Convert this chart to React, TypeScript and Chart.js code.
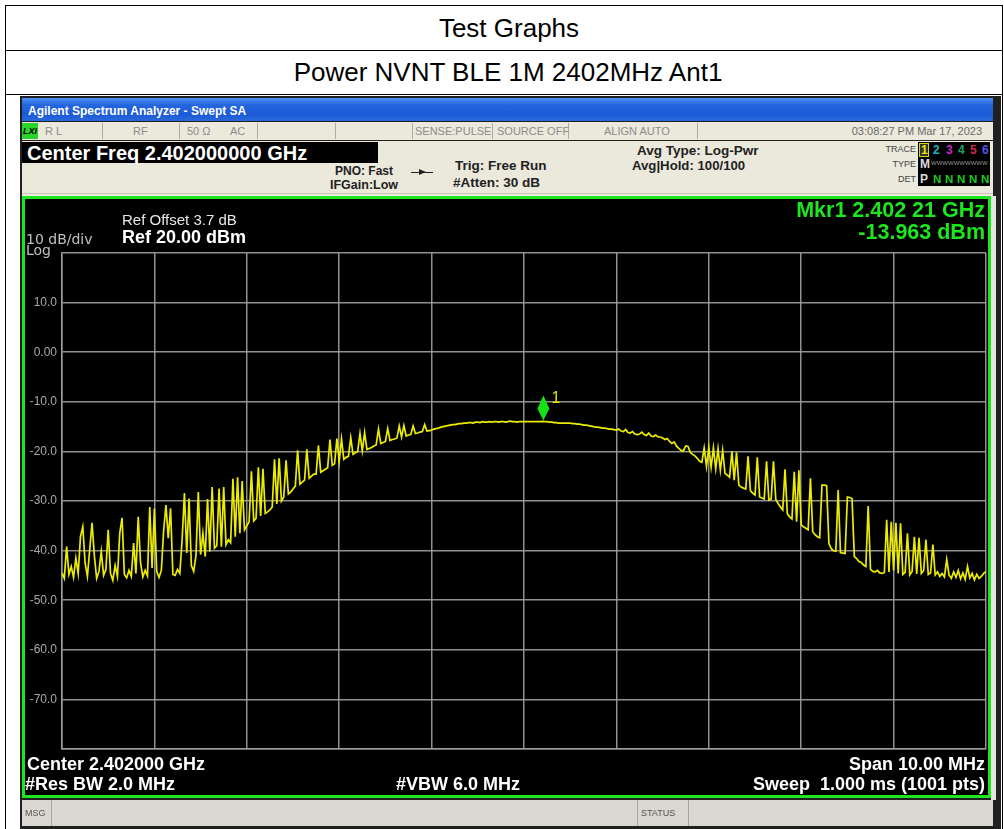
import React, { useEffect, useRef } from "react";
import { Chart, registerables } from "chart.js";

Chart.register(...registerables);

// ---- data ----
const SWEEP_START_MHZ = 2397;
const SWEEP_STEP_MHZ = 0.025;
const FREQ_MIN_MHZ = 2397;
const FREQ_MAX_MHZ = 2407;
const FREQ_DIV_MHZ = 1;
const LEVEL_TOP_DBM = 20;
const LEVEL_BOTTOM_DBM = -80;
const LEVEL_DIV_DB = 10;
const Y_TICK_VALUES = [10, 0, -10, -20, -30, -40, -50, -60, -70];
const Y_TICK_LABELS = ["10.0", "0.00", "-10.0", "-20.0", "-30.0", "-40.0", "-50.0", "-60.0", "-70.0"];

const TRACE_DBM = [
  -44.5, -45.6, -39.2, -44.8, -43.2, -45.4, -41.5, -44.6, -37.2, -35.2,
  -42.5, -45.2, -39.8, -34.4, -41.0, -45.6, -44.2, -40.2, -45.0, -43.8,
  -35.8, -44.6, -46.0, -43.0, -45.2, -36.5, -33.4, -44.8, -45.5, -44.0,
  -45.2, -38.5, -44.6, -33.2, -42.5, -45.3, -44.0, -45.1, -31.2, -43.5,
  -31.5, -44.2, -45.4, -44.0, -36.0, -30.8, -37.5, -31.5, -44.8, -45.0,
  -43.8, -44.6, -37.8, -28.4, -40.5, -29.5, -43.0, -44.2, -41.0, -28.2,
  -40.8, -36.5, -41.2, -29.6, -40.2, -27.2, -39.5, -39.0, -27.5, -39.2,
  -27.2, -38.8, -37.8, -38.4, -25.5, -37.2, -25.2, -36.5, -26.0, -35.8,
  -35.0, -34.2, -24.0, -34.0, -33.5, -23.2, -33.0, -23.5, -32.5, -32.2,
  -31.8, -31.2, -21.6, -30.6, -21.4, -30.0, -29.2, -21.8, -28.6, -28.2,
  -27.6, -27.0, -19.8, -26.6, -26.2, -25.8, -19.6, -25.4, -25.0, -24.6,
  -24.6, -18.8, -24.2, -23.9, -23.6, -23.3, -17.6, -22.8, -22.5, -17.4,
  -22.0, -17.5, -21.6, -21.2, -21.0, -17.2, -20.6, -20.3, -20.0, -16.4,
  -19.9, -16.2, -19.6, -19.4, -19.2, -18.9, -18.7, -15.5, -18.4, -18.2,
  -18.0, -15.4, -17.8, -17.6, -17.5, -17.3, -14.9, -17.1, -14.8, -16.9,
  -16.7, -16.6, -14.9, -16.4, -16.3, -16.1, -16.0, -14.6, -15.9, -15.8,
  -15.7, -15.5, -15.4, -15.3, -15.1, -15.0, -14.9, -14.8, -14.7, -14.6,
  -14.6, -14.5, -14.4, -14.4, -14.3, -14.3, -14.2, -14.2, -14.3, -14.1,
  -14.1, -14.2, -14.0, -14.1, -14.1, -14.0, -14.1, -14.0, -14.0, -14.1,
  -14.0, -14.0, -14.1, -14.0, -13.9, -14.0, -14.0, -14.1, -14.0, -14.0,
  -14.0, -14.0, -14.0, -14.0, -14.0, -14.0, -14.0, -14.0, -13.96, -14.0,
  -14.0, -14.1, -14.1, -14.2, -14.2, -14.3, -14.3, -14.3, -14.3, -14.3,
  -14.3, -14.4, -14.4, -14.5, -14.5, -14.6, -14.7, -14.7, -14.8, -14.9,
  -15.0, -15.1, -15.1, -15.2, -15.3, -15.3, -15.4, -15.5, -15.5, -15.6,
  -15.7, -15.5, -15.9, -16.0, -15.6, -16.2, -16.3, -16.0, -16.5, -16.6,
  -16.5, -16.1, -16.6, -16.8, -16.3, -16.9, -17.0, -16.7, -17.1, -17.1,
  -17.3, -17.6, -17.4, -18.0, -18.4, -18.1, -18.9, -19.4, -19.8, -19.9,
  -18.9, -19.0, -20.2, -20.6, -20.9, -21.4, -22.0, -22.2, -19.3, -23.0,
  -19.2, -23.2, -19.3, -23.5, -19.5, -23.8, -19.8, -24.4, -24.8, -25.2,
  -20.0, -25.8, -20.2, -26.8, -27.2, -27.4, -27.6, -21.0, -27.9, -28.4,
  -28.8, -21.2, -29.2, -29.4, -29.6, -22.0, -29.8, -29.6, -22.0, -29.7,
  -30.5, -31.2, -31.8, -23.6, -32.6, -33.2, -33.6, -24.1, -34.2, -23.8,
  -34.8, -35.2, -35.5, -35.8, -25.4, -36.2, -36.8, -37.2, -37.4, -26.8,
  -26.8, -26.9, -38.6, -39.6, -40.0, -40.1, -27.8, -40.4, -40.5, -40.6,
  -29.2, -29.3, -29.5, -41.2, -41.6, -42.2, -42.4, -42.9, -43.2, -31.0,
  -43.8, -44.2, -44.3, -44.0, -44.5, -44.6, -44.4, -33.8, -44.3, -34.2,
  -44.0, -34.4, -44.6, -34.5, -44.8, -44.4, -36.5, -44.9, -44.2, -37.2,
  -44.7, -37.4, -44.6, -44.0, -37.8, -44.8, -44.5, -38.8, -44.9, -44.3,
  -45.2, -44.6, -45.3, -41.8, -44.9, -45.6, -44.3, -45.4, -44.0, -45.7,
  -44.5, -45.8, -43.2, -45.5, -44.6, -45.9, -44.8, -45.6, -45.2, -44.6,
  -44.2,
];

const MARKER_FREQ_MHZ = 2402.21;
const MARKER_LEVEL_DBM = -13.963;

const SANS = "'Liberation Sans', Arial, sans-serif";

const markerPlugin = {
  id: "mkr1",
  afterDatasetsDraw(chart: any) {
    const { ctx, scales } = chart;
    const px = scales.x.getPixelForValue(MARKER_FREQ_MHZ);
    const py = scales.y.getPixelForValue(MARKER_LEVEL_DBM);
    ctx.save();
    ctx.fillStyle = "#16e016";
    ctx.beginPath();
    ctx.moveTo(px, py - 1);
    ctx.lineTo(px - 6, py - 13);
    ctx.lineTo(px, py - 26);
    ctx.lineTo(px + 6, py - 13);
    ctx.closePath();
    ctx.fill();
    ctx.fillStyle = "#e4e400";
    ctx.font = "16px 'Liberation Sans', Arial, sans-serif";
    ctx.textBaseline = "alphabetic";
    ctx.fillText("1", px + 8, py - 18);
    ctx.restore();
  },
};

function SpectrumChart() {
  const ref = useRef<HTMLCanvasElement>(null);
  useEffect(() => {
    const canvas = ref.current;
    if (!canvas) return;
    const points = TRACE_DBM.map((v, i) => ({ x: SWEEP_START_MHZ + i * SWEEP_STEP_MHZ, y: v }));
    const gridColor = "rgba(160,160,160,0.9)";
    const chart = new Chart(canvas, {
      type: "line",
      data: {
        datasets: [
          {
            data: points,
            borderColor: "#ecec00",
            borderWidth: 1.7,
            pointRadius: 0,
            tension: 0,
            fill: false,
          },
        ],
      },
      options: {
        animation: false,
        responsive: false,
        maintainAspectRatio: false,
        devicePixelRatio: 1,
        layout: { padding: { left: 0, right: 2, top: 54, bottom: 46 } },
        plugins: { legend: { display: false }, tooltip: { enabled: false } },
        scales: {
          x: {
            type: "linear",
            min: FREQ_MIN_MHZ,
            max: FREQ_MAX_MHZ,
            ticks: { display: false, stepSize: FREQ_DIV_MHZ },
            grid: { color: gridColor, lineWidth: 1.5, drawTicks: false },
            border: { color: gridColor, width: 1.5 },
            afterFit: (s: any) => {
              s.height = 0;
            },
          },
          y: {
            type: "linear",
            min: LEVEL_BOTTOM_DBM,
            max: LEVEL_TOP_DBM,
            ticks: {
              stepSize: LEVEL_DIV_DB,
              color: "#a8a8a8",
              padding: 5,
              font: { family: "'Liberation Sans', Arial, sans-serif", size: 12 },
              callback: (v: any) => {
                const idx = Y_TICK_VALUES.indexOf(Number(v));
                return idx >= 0 ? Y_TICK_LABELS[idx] : "";
              },
            },
            grid: { color: gridColor, lineWidth: 1.5, drawTicks: false },
            border: { color: gridColor, width: 1.5 },
            afterFit: (s: any) => {
              s.width = 37;
            },
          },
        },
      },
      plugins: [markerPlugin],
    } as any);
    return () => chart.destroy();
  }, []);
  return (
    <canvas
      ref={ref}
      width={963}
      height={596}
      style={{ position: "absolute", left: 25, top: 199, width: 963, height: 596, background: "#000" }}
    />
  );
}

type LP = {
  x: number;
  cy: number;
  text: string;
  size: number;
  bold?: boolean;
  color: string;
  align?: "left" | "right" | "center";
  family?: string;
  italic?: boolean;
};

function L({ x, cy, text, size, bold, color, align = "left", family = SANS, italic }: LP) {
  const style: React.CSSProperties = {
    position: "absolute",
    top: cy - 15,
    height: 30,
    lineHeight: "30px",
    fontSize: size,
    fontWeight: bold ? 700 : 400,
    fontStyle: italic ? "italic" : "normal",
    color,
    fontFamily: family,
    whiteSpace: "pre",
  };
  if (align === "left") style.left = x;
  else if (align === "right") style.right = 1004 - x;
  else {
    style.left = x;
    style.transform = "translateX(-50%)";
  }
  return <div style={style}>{text}</div>;
}

function Box(props: { l: number; t: number; w: number; h: number; bg: string; style?: React.CSSProperties }) {
  return (
    <div
      style={{
        position: "absolute",
        left: props.l,
        top: props.t,
        width: props.w,
        height: props.h,
        background: props.bg,
        ...(props.style || {}),
      }}
    />
  );
}

const BEIGE = "#ebe8dc";
const STATUS_GREY = "#8c8c8c";
const GREEN = "#1ee61e";

export default function App() {
  const statusSeps = [102, 179, 257, 335, 412, 492, 568, 697];
  const traceDigits = [
    { t: "2", x: 933, c: "#19b4c8" },
    { t: "3", x: 946, c: "#c828c8" },
    { t: "4", x: 958, c: "#1fa060" },
    { t: "5", x: 970, c: "#d02848" },
    { t: "6", x: 982, c: "#5a50e6" },
  ];
  const detN = [933, 945, 957, 969, 981];
  return (
    <div
      style={{
        position: "absolute",
        left: 0,
        top: 0,
        width: 1004,
        height: 829,
        overflow: "hidden",
        background: "#fff",
        fontFamily: SANS,
      }}
    >
      {/* table lines */}
      <Box l={5} t={5} w={997} h={1} bg="#000" />
      <Box l={5} t={50} w={997} h={1} bg="#000" />
      <Box l={5} t={94} w={997} h={1} bg="#000" />
      <Box l={5} t={5} w={1} h={824} bg="#000" />
      <Box l={1002} t={5} w={1} h={824} bg="#000" />
      <L x={509} cy={28} text="Test Graphs" size={26} color="#000" align="center" />
      <L x={508} cy={72} text="Power NVNT BLE 1M 2402MHz Ant1" size={26} color="#000" align="center" />

      {/* analyzer screenshot frame */}
      <Box l={20} t={96} w={981} h={733} bg="#202020" />
      <Box
        l={22}
        t={98}
        w={971}
        h={23}
        bg="linear-gradient(#4a90f5 0%, #2466de 30%, #1c5ad6 70%, #2a68dc 100%)"
      />
      <L x={28} cy={111} text="Agilent Spectrum Analyzer - Swept SA" size={12} bold color="#fff" />

      {/* status row */}
      <Box l={22} t={122} w={971} h={18} bg={BEIGE} />
      <Box l={22} t={123} w={16} h={16} bg="#2bd42b" />
      <L x={23} cy={131} text="LXI" size={9} bold italic color="#000" />
      {statusSeps.map((x) => (
        <Box key={x} l={x} t={123} w={1} h={16} bg="#b0ad9f" />
      ))}
      <L x={45} cy={131} text="R L" size={11} color={STATUS_GREY} />
      <L x={133} cy={131} text="RF" size={11} color={STATUS_GREY} />
      <L x={187} cy={131} text="50 Ω" size={11} color={STATUS_GREY} />
      <L x={230} cy={131} text="AC" size={11} color={STATUS_GREY} />
      <L x={415} cy={131} text="SENSE:PULSE" size={11} color={STATUS_GREY} />
      <L x={497} cy={131} text="SOURCE OFF" size={11} color={STATUS_GREY} />
      <L x={604} cy={131} text="ALIGN AUTO" size={11} color={STATUS_GREY} />
      <L x={982} cy={131} text="03:08:27 PM Mar 17, 2023" size={11} color="#6a6a6a" align="right" />

      {/* info area */}
      <Box l={22} t={141} w={971} h={55} bg={BEIGE} />
      <Box l={22} t={193} w={971} h={1} bg="#c8c5b8" />
      <Box l={22} t={142} w={356} h={21} bg="#000" />
      <L x={27} cy={152.5} text="Center Freq 2.402000000 GHz" size={20} bold color="#fff" />
      <L x={335} cy={171} text="PNO: Fast" size={12} bold color="#222" />
      <L x={330} cy={185} text="IFGain:Low" size={12.5} bold color="#222" />
      <Box l={411} t={172} w={22} h={1} bg="#222" />
      <div
        style={{
          position: "absolute",
          left: 419,
          top: 169,
          width: 0,
          height: 0,
          borderTop: "3.5px solid transparent",
          borderBottom: "3.5px solid transparent",
          borderLeft: "7px solid #222",
        }}
      />
      <L x={455} cy={166} text="Trig: Free Run" size={13.5} bold color="#222" />
      <L x={453} cy={183} text="#Atten: 30 dB" size={13.5} bold color="#222" />
      <L x={637} cy={151} text="Avg Type: Log-Pwr" size={13.5} bold color="#222" />
      <L x={632} cy={166} text="Avg|Hold: 100/100" size={13.2} bold color="#222" />
      <L x={916} cy={149} text="TRACE" size={9} color="#444" align="right" />
      <L x={916} cy={164} text="TYPE" size={9} color="#444" align="right" />
      <L x={916} cy={179} text="DET" size={9} color="#444" align="right" />
      <Box l={918} t={142} w={72} h={44} bg="#000" />
      <Box l={919} t={143} w={10} h={14} bg="#333" style={{ border: "1px solid #d8d800", boxSizing: "border-box" }} />
      <L x={921} cy={150} text="1" size={12} bold color="#e8e800" />
      {traceDigits.map((d) => (
        <L key={d.t} x={d.x} cy={150} text={d.t} size={12} bold color={d.c} />
      ))}
      <L x={920} cy={164} text="M" size={12} bold color="#d8d8d8" />
      <L x={931} cy={163} text="WWWWWWWWWW" size={6} color="#9a9a9a" />
      <L x={920} cy={179} text="P" size={12} bold color="#d8d8d8" />
      {detN.map((x) => (
        <L key={x} x={x} cy={179} text="N" size={11.5} bold color="#1ec81e" />
      ))}

      {/* display area */}
      <Box l={22} t={196} w={969} h={602} bg="#000" style={{ border: `3px solid ${GREEN}`, boxSizing: "border-box" }} />
      <Box l={991} t={196} w={5} h={604} bg="#e6e6e0" />
      <SpectrumChart />

      <L x={122} cy={220} text="Ref Offset 3.7 dB" size={15} color="#e8e8e8" />
      <L x={122} cy={236.5} text="Ref 20.00 dBm" size={18} bold color="#fff" />
      <L x={26} cy={239} text="10 dB/div" size={14} color="#c0c0c0" family="'DejaVu Sans', sans-serif" />
      <L x={26} cy={250} text="Log" size={14} color="#c0c0c0" family="'DejaVu Sans', sans-serif" />
      <L x={985} cy={210} text="Mkr1 2.402 21 GHz" size={21.5} bold color={GREEN} align="right" />
      <L x={985} cy={232} text="-13.963 dBm" size={21.5} bold color={GREEN} align="right" />

      <L x={27} cy={763.5} text="Center 2.402000 GHz" size={18} bold color="#fff" />
      <L x={25} cy={784} text="#Res BW 2.0 MHz" size={18} bold color="#fff" />
      <L x={396} cy={784} text="#VBW 6.0 MHz" size={18} bold color="#fff" />
      <L x={985} cy={763.5} text="Span 10.00 MHz" size={18} bold color="#fff" align="right" />
      <L x={985} cy={784} text="Sweep  1.000 ms (1001 pts)" size={18} bold color="#fff" align="right" />

      {/* message bar */}
      <Box l={22} t={800} w={971} h={26} bg="#d9d7d0" />
      <Box l={51} t={800} w={1} h={26} bg="#a8a59a" />
      <Box l={637} t={800} w={1} h={26} bg="#a8a59a" />
      <Box l={688} t={800} w={1} h={26} bg="#a8a59a" />
      <L x={25} cy={813} text="MSG" size={9} color="#555" />
      <L x={641} cy={813} text="STATUS" size={9} color="#555" />
    </div>
  );
}
